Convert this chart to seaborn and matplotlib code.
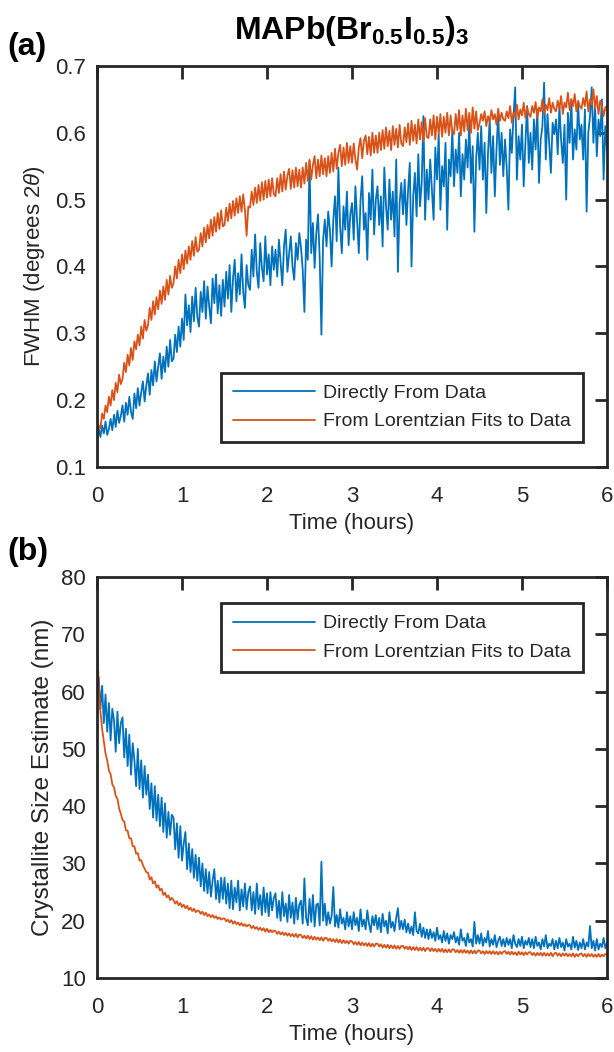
import numpy as np
import pandas as pd
import matplotlib
matplotlib.use("Agg")
import matplotlib.pyplot as plt
import seaborn as sns

# ---------------- data ----------------
time_hours = np.round(np.arange(301) * 0.02, 2)

fwhm_direct = [
    0.140, 0.158, 0.145, 0.162, 0.150, 0.168, 0.148, 0.157, 0.172, 0.155, 0.178, 0.160, 0.184, 0.166, 0.176,
    0.192, 0.168, 0.196, 0.178, 0.205, 0.182, 0.172, 0.210, 0.188, 0.218, 0.192, 0.212, 0.228, 0.198, 0.222,
    0.240, 0.208, 0.245, 0.222, 0.258, 0.228, 0.250, 0.270, 0.232, 0.265, 0.242, 0.280, 0.250, 0.290, 0.258,
    0.262, 0.298, 0.272, 0.310, 0.280, 0.322, 0.290, 0.358, 0.312, 0.342, 0.302, 0.355, 0.318, 0.368, 0.325,
    0.310, 0.362, 0.332, 0.378, 0.322, 0.370, 0.340, 0.315, 0.382, 0.345, 0.388, 0.330, 0.372, 0.326, 0.380,
    0.340, 0.392, 0.352, 0.402, 0.332, 0.382, 0.410, 0.348, 0.390, 0.358, 0.418, 0.362, 0.338, 0.402, 0.372,
    0.365, 0.425, 0.385, 0.448, 0.392, 0.368, 0.435, 0.398, 0.378, 0.445, 0.388, 0.418, 0.372, 0.430, 0.395,
    0.425, 0.385, 0.440, 0.405, 0.372, 0.430, 0.455, 0.392, 0.418, 0.445, 0.400, 0.380, 0.435, 0.410, 0.450,
    0.428, 0.395, 0.332, 0.440, 0.410, 0.558, 0.420, 0.465, 0.398, 0.450, 0.478, 0.412, 0.298, 0.440, 0.470,
    0.430, 0.482, 0.455, 0.400, 0.470, 0.505, 0.438, 0.548, 0.460, 0.420, 0.490, 0.455, 0.512, 0.432, 0.478,
    0.495, 0.440, 0.520, 0.468, 0.420, 0.498, 0.535, 0.455, 0.480, 0.410, 0.510, 0.470, 0.545, 0.448, 0.500,
    0.520, 0.462, 0.505, 0.430, 0.548, 0.490, 0.455, 0.530, 0.470, 0.512, 0.445, 0.560, 0.392, 0.495, 0.525,
    0.478, 0.530, 0.462, 0.515, 0.555, 0.400, 0.505, 0.540, 0.475, 0.568, 0.490, 0.525, 0.625, 0.470, 0.545,
    0.500, 0.560, 0.515, 0.470, 0.578, 0.530, 0.598, 0.485, 0.550, 0.520, 0.585, 0.455, 0.560, 0.535, 0.605,
    0.520, 0.575, 0.540, 0.600, 0.505, 0.568, 0.530, 0.590, 0.548, 0.615, 0.525, 0.580, 0.452, 0.560, 0.600,
    0.545, 0.610, 0.530, 0.585, 0.480, 0.570, 0.620, 0.540, 0.595, 0.505, 0.575, 0.630, 0.552, 0.600, 0.535,
    0.590, 0.548, 0.485, 0.605, 0.570, 0.625, 0.668, 0.530, 0.595, 0.560, 0.612, 0.520, 0.585, 0.640, 0.555,
    0.600, 0.545, 0.620, 0.575, 0.635, 0.525, 0.590, 0.610, 0.675, 0.560, 0.628, 0.585, 0.540, 0.615, 0.598,
    0.620, 0.568, 0.640, 0.590, 0.555, 0.612, 0.500, 0.630, 0.585, 0.650, 0.560, 0.605, 0.575, 0.645, 0.590,
    0.612, 0.560, 0.635, 0.482, 0.600, 0.625, 0.668, 0.585, 0.640, 0.565, 0.620, 0.595, 0.650, 0.530, 0.610,
    0.575,
]

fwhm_lorentz = [
    0.140, 0.162, 0.158, 0.180, 0.172, 0.192, 0.182, 0.205, 0.192, 0.215, 0.200, 0.226, 0.212, 0.238, 0.224,
    0.232, 0.256, 0.242, 0.268, 0.252, 0.278, 0.260, 0.288, 0.276, 0.298, 0.282, 0.310, 0.292, 0.320, 0.304,
    0.312, 0.338, 0.320, 0.348, 0.328, 0.354, 0.336, 0.364, 0.344, 0.370, 0.350, 0.380, 0.358, 0.386, 0.368,
    0.375, 0.400, 0.382, 0.410, 0.390, 0.418, 0.396, 0.424, 0.404, 0.430, 0.410, 0.438, 0.416, 0.444, 0.422,
    0.425, 0.450, 0.430, 0.458, 0.436, 0.462, 0.442, 0.470, 0.446, 0.474, 0.452, 0.480, 0.456, 0.484, 0.460,
    0.462, 0.488, 0.468, 0.494, 0.472, 0.498, 0.476, 0.502, 0.480, 0.505, 0.482, 0.508, 0.485, 0.446, 0.490,
    0.488, 0.512, 0.492, 0.518, 0.495, 0.522, 0.498, 0.526, 0.500, 0.528, 0.503, 0.530, 0.505, 0.532, 0.508,
    0.505, 0.532, 0.510, 0.538, 0.512, 0.542, 0.515, 0.536, 0.546, 0.516, 0.544, 0.518, 0.548, 0.520, 0.545,
    0.518, 0.548, 0.524, 0.555, 0.528, 0.560, 0.530, 0.552, 0.565, 0.532, 0.560, 0.535, 0.566, 0.538, 0.562,
    0.535, 0.565, 0.540, 0.570, 0.542, 0.576, 0.546, 0.570, 0.582, 0.550, 0.578, 0.552, 0.585, 0.555, 0.580,
    0.555, 0.584, 0.560, 0.545, 0.578, 0.592, 0.562, 0.588, 0.596, 0.568, 0.594, 0.566, 0.600, 0.570, 0.596,
    0.570, 0.600, 0.574, 0.604, 0.576, 0.608, 0.580, 0.603, 0.574, 0.610, 0.582, 0.606, 0.578, 0.612, 0.584,
    0.580, 0.608, 0.586, 0.614, 0.582, 0.618, 0.588, 0.612, 0.584, 0.620, 0.590, 0.616, 0.587, 0.622, 0.594,
    0.592, 0.620, 0.596, 0.626, 0.590, 0.624, 0.598, 0.628, 0.594, 0.624, 0.600, 0.630, 0.596, 0.626, 0.602,
    0.598, 0.628, 0.604, 0.634, 0.596, 0.626, 0.602, 0.636, 0.604, 0.630, 0.600, 0.638, 0.606, 0.632, 0.604,
    0.614, 0.628, 0.618, 0.632, 0.610, 0.625, 0.616, 0.634, 0.620, 0.628, 0.612, 0.636, 0.618, 0.630, 0.620,
    0.618, 0.632, 0.622, 0.640, 0.615, 0.630, 0.624, 0.642, 0.620, 0.635, 0.626, 0.645, 0.622, 0.638, 0.628,
    0.624, 0.640, 0.630, 0.646, 0.622, 0.638, 0.632, 0.650, 0.628, 0.642, 0.634, 0.652, 0.630, 0.645, 0.636,
    0.632, 0.648, 0.636, 0.655, 0.628, 0.645, 0.638, 0.660, 0.634, 0.650, 0.640, 0.658, 0.632, 0.648, 0.640,
    0.636, 0.652, 0.640, 0.662, 0.632, 0.650, 0.642, 0.665, 0.636, 0.655, 0.628, 0.648, 0.640, 0.625, 0.638,
    0.640,
]

size_direct = [
    59.5, 62.5, 57.0, 61.0, 54.5, 59.5, 53.0, 58.0, 51.5, 57.0, 55.0, 49.5, 56.5, 51.0, 54.5,
    55.5, 48.5, 53.5, 47.0, 52.5, 45.5, 51.0, 48.0, 43.5, 50.0, 43.0, 48.0, 41.5, 47.0, 42.0,
    45.5, 39.5, 44.0, 38.0, 43.5, 37.5, 42.0, 36.5, 41.5, 35.5, 40.5, 34.5, 39.0, 35.0, 38.5,
    38.0, 32.5, 37.0, 31.0, 36.5, 30.5, 33.5, 35.5, 29.0, 33.5, 28.5, 32.5, 27.5, 31.5, 27.0,
    31.0, 26.0, 30.0, 25.2, 29.0, 24.8, 28.5, 24.2, 27.0, 29.0, 23.8, 27.0, 23.2, 27.5, 23.8,
    27.5, 23.0, 26.5, 22.2, 27.0, 22.0, 25.8, 23.2, 27.0, 21.8, 25.5, 22.5, 26.5, 22.0, 25.0,
    26.0, 21.8, 25.0, 21.2, 26.5, 22.0, 24.5, 21.0, 25.8, 21.5, 24.8, 20.8, 25.0, 21.8, 24.0,
    24.8, 20.5, 23.5, 20.0, 25.0, 20.8, 23.0, 19.8, 24.5, 20.5, 23.2, 19.5, 24.0, 20.2, 22.8,
    23.5, 19.5, 27.4, 20.5, 19.2, 23.8, 19.8, 24.5, 19.0, 22.8, 23.0, 19.2, 30.3, 20.0, 23.0,
    19.2, 21.5, 19.5, 20.8, 25.9, 19.0, 21.0, 18.8, 22.0, 19.5, 20.5, 18.5, 21.5, 19.0, 20.8,
    18.5, 21.5, 19.2, 20.5, 18.2, 22.0, 19.0, 20.2, 18.5, 21.8, 19.5, 18.0, 20.8, 19.2, 21.0,
    18.5, 20.5, 18.0, 21.2, 19.0, 20.0, 17.8, 21.5, 18.8, 19.8, 18.2, 20.5, 22.2, 18.5, 20.0,
    18.5, 20.2, 18.0, 19.5, 17.8, 19.0, 17.5, 21.5, 18.2, 17.8, 19.5, 17.2, 18.8, 17.0, 18.5,
    16.8, 18.5, 17.0, 18.0, 16.5, 18.8, 16.8, 17.5, 16.2, 18.2, 16.5, 17.8, 16.0, 17.5, 16.8,
    18.0, 16.2, 17.2, 15.8, 18.5, 16.5, 17.0, 15.6, 17.8, 16.2, 16.8, 15.5, 19.8, 16.0, 17.5,
    16.0, 17.8, 15.6, 17.0, 16.2, 18.2, 15.5, 16.8, 15.8, 17.5, 15.4, 16.5, 17.2, 15.6, 16.8,
    15.5, 17.0, 15.8, 16.8, 15.2, 17.5, 16.0, 15.4, 16.8, 15.6, 17.2, 15.2, 16.5, 15.8, 17.0,
    15.4, 16.8, 15.2, 17.2, 15.6, 16.2, 15.0, 16.8, 15.5, 17.5, 15.2, 16.0, 15.6, 16.8, 15.0,
    16.5, 15.2, 17.0, 15.4, 16.2, 14.8, 16.8, 15.5, 16.0, 15.0, 17.2, 15.3, 16.5, 14.9, 16.2,
    15.2, 16.8, 15.0, 16.2, 15.5, 19.1, 15.2, 16.5, 14.8, 16.8, 15.0, 16.0, 15.4, 17.0, 15.2,
    16.2,
]

size_lorentz = [
    70.0, 61.0, 56.5, 53.5, 51.3, 49.2, 48.0, 46.2, 45.6, 43.8, 43.3, 41.8, 41.3, 39.6, 38.7,
    37.6, 37.3, 35.8, 35.7, 34.4, 34.4, 33.0, 33.0, 31.7, 31.8, 30.5, 30.6, 29.7, 29.1, 28.5,
    28.4, 27.2, 27.6, 26.5, 26.9, 25.8, 26.2, 25.3, 25.6, 24.5, 24.9, 24.1, 24.4, 23.6, 24.0,
    23.6, 23.0, 23.4, 22.7, 23.1, 22.4, 22.8, 22.2, 22.6, 21.9, 22.3, 21.7, 22.1, 21.5, 21.8,
    21.7, 21.2, 21.6, 21.0, 21.4, 20.8, 21.1, 20.6, 21.0, 20.5, 20.8, 20.3, 20.6, 20.2, 20.4,
    20.4, 19.9, 20.2, 19.7, 20.1, 19.5, 19.9, 19.4, 19.7, 19.2, 19.6, 19.1, 19.4, 19.0, 19.3,
    19.2, 18.7, 19.1, 18.6, 18.9, 18.4, 18.8, 18.3, 18.7, 18.1, 18.6, 18.0, 18.4, 18.0, 18.3,
    18.2, 17.7, 18.1, 17.6, 18.0, 17.5, 17.9, 17.4, 17.8, 17.3, 17.7, 17.2, 17.7, 17.1, 17.6,
    17.5, 17.0, 17.4, 16.9, 17.4, 16.8, 17.3, 16.7, 17.2, 16.7, 17.1, 16.6, 17.1, 16.5, 17.0,
    17.0, 16.5, 16.9, 16.4, 16.8, 16.3, 16.8, 16.2, 16.7, 16.1, 16.6, 16.1, 16.5, 16.0, 16.5,
    16.4, 15.9, 16.3, 15.8, 16.3, 15.7, 16.2, 15.7, 16.1, 15.6, 16.1, 15.5, 16.0, 15.5, 16.0,
    16.0, 15.5, 15.9, 15.3, 15.8, 15.3, 15.8, 15.2, 15.7, 15.2, 15.7, 15.1, 15.6, 15.1, 15.6,
    15.6, 15.1, 15.5, 15.0, 15.5, 14.9, 15.4, 14.9, 15.4, 14.8, 15.3, 14.8, 15.3, 14.7, 15.2,
    15.2, 14.7, 15.2, 14.7, 15.1, 14.6, 15.1, 14.6, 15.1, 14.5, 15.0, 14.5, 15.0, 14.5, 15.0,
    15.0, 14.5, 14.9, 14.4, 14.9, 14.4, 14.9, 14.4, 14.8, 14.3, 14.8, 14.3, 14.8, 14.3, 14.8,
    14.8, 14.3, 14.7, 14.2, 14.7, 14.3, 14.7, 14.2, 14.7, 14.2, 14.6, 14.1, 14.6, 14.2, 14.6,
    14.7, 14.2, 14.6, 14.1, 14.6, 14.1, 14.5, 14.0, 14.6, 14.1, 14.5, 14.0, 14.5, 14.1, 14.5,
    14.5, 14.0, 14.4, 13.9, 14.4, 14.0, 14.4, 13.9, 14.4, 13.9, 14.3, 13.9, 14.4, 13.8, 14.3,
    14.4, 13.9, 14.3, 13.8, 14.3, 13.9, 14.3, 13.8, 14.2, 13.8, 14.3, 13.7, 14.2, 13.8, 14.2,
    14.3, 13.8, 14.2, 13.7, 14.2, 13.8, 14.2, 13.7, 14.1, 13.7, 14.2, 13.7, 14.1, 13.8, 14.2,
    14.0,
]

series_labels = ["Directly From Data", "From Lorentzian Fits to Data"]
x_ticks = [0, 1, 2, 3, 4, 5, 6]
fwhm_ticks = [0.1, 0.2, 0.3, 0.4, 0.5, 0.6, 0.7]
size_ticks = [10, 20, 30, 40, 50, 60, 70, 80]

# ---------------- style ----------------
sns.set_style("white")
plt.rcParams["font.family"] = ["Liberation Sans", "DejaVu Sans"]
plt.rcParams["mathtext.fontset"] = "custom"
plt.rcParams["mathtext.rm"] = "Liberation Sans"
plt.rcParams["mathtext.it"] = "Liberation Sans:italic"
plt.rcParams["mathtext.bf"] = "Liberation Sans:bold"

BLUE = "#0072BD"
ORANGE = "#D95319"
DARK = "#262626"

fig = plt.figure(figsize=(6.14, 10.52), dpi=100)
ax1 = fig.add_axes([0.158, 0.5561, 0.8306, 0.3812])
ax2 = fig.add_axes([0.158, 0.0703, 0.8306, 0.3812])

df1 = pd.DataFrame({"t": time_hours, "direct": fwhm_direct, "lor": fwhm_lorentz})
df2 = pd.DataFrame({"t": time_hours, "direct": size_direct, "lor": size_lorentz})

for ax, df in ((ax1, df1), (ax2, df2)):
    sns.lineplot(data=df, x="t", y="direct", ax=ax, color=BLUE, linewidth=1.3,
                 estimator=None, label=series_labels[0])
    sns.lineplot(data=df, x="t", y="lor", ax=ax, color=ORANGE, linewidth=1.3,
                 estimator=None, label=series_labels[1])
    ax.set_xlim(0, 6)
    ax.set_xticks(x_ticks)
    ax.set_xticklabels([str(v) for v in x_ticks])
    ax.set_xlabel("Time (hours)", fontsize=16, color=DARK, labelpad=4)
    for s in ax.spines.values():
        s.set_visible(True)
        s.set_linewidth(2.0)
        s.set_color(DARK)
    ax.tick_params(direction="in", length=9, width=2, color=DARK,
                   top=True, right=True, labelsize=16, labelcolor=DARK)
    ax.tick_params(axis="y", pad=8)
    ax.tick_params(axis="x", pad=14)

ax1.set_ylim(0.1, 0.7)
ax1.set_yticks(fwhm_ticks)
ax1.set_yticklabels([f"{v:.1f}" for v in fwhm_ticks])
ax1.set_ylabel(r"FWHM (degrees 2$\it{\theta}$)", fontsize=16, color=DARK, labelpad=6)

ax2.set_ylim(10, 80)
ax2.set_yticks(size_ticks)
ax2.set_yticklabels([str(v) for v in size_ticks])
ax2.set_ylabel("Crystallite Size Estimate (nm)", fontsize=17.5, color=DARK, labelpad=5)

leg_kw = dict(fontsize=14, frameon=True, fancybox=False, handlelength=4.2,
              handletextpad=0.45, borderpad=0.6, labelspacing=0.55,
              borderaxespad=0, edgecolor=DARK, framealpha=1)
l1 = ax1.legend(loc="lower right", bbox_to_anchor=(0.953, 0.062), **leg_kw)
l2 = ax2.legend(loc="upper right", bbox_to_anchor=(0.953, 0.935), **leg_kw)
for lg in (l1, l2):
    lg.get_frame().set_linewidth(2.0)
    for t in lg.get_texts():
        t.set_color(DARK)

fig.text(0.573, 0.971, r"$\mathbf{MAPb(Br_{0.5}I_{0.5})_3}$", ha="center", va="center",
         fontsize=23, color="black")
fig.text(0.012, 0.955, "(a)", ha="left", va="center", fontsize=23,
         fontweight="bold", color="black")
fig.text(0.012, 0.475, "(b)", ha="left", va="center", fontsize=23,
         fontweight="bold", color="black")

fig.savefig("out.png", dpi=100, facecolor="white")
